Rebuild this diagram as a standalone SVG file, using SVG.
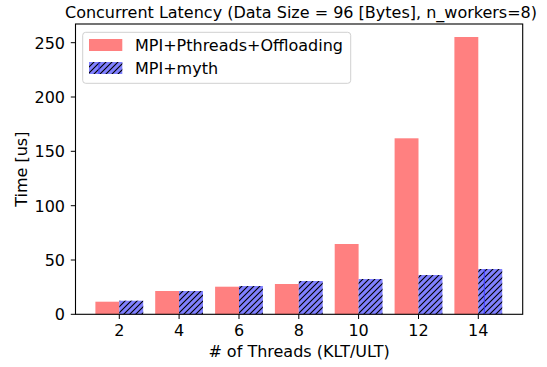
<svg xmlns="http://www.w3.org/2000/svg" width="547" height="367" viewBox="0 0 547 367">
  <style>
    text { font-family: "DejaVu Sans", "Liberation Sans", sans-serif; font-size: 16px; fill: #000; }
    .red { fill: #ff8080; }
    .blue { fill: #8080ff; }
    .hatch { fill: url(#hatch); }
    .tick { stroke: #000; stroke-width: 1; }
    .ylab { text-anchor: end; }
    .xlab { text-anchor: middle; }
    .seam { stroke: #3a3aff; stroke-width: 1; }
  </style>
  <defs>
    <pattern id="hatch" patternUnits="userSpaceOnUse" width="6" height="6">
      <path d="M0,6 L6,0 M-1.5,1.5 L1.5,-1.5 M4.5,7.5 L7.5,4.5" stroke="#000" stroke-width="1.1"/>
    </pattern>
  </defs>
  <rect width="547" height="367" fill="#fff"/>

  <text x="301" y="17.5" text-anchor="middle">Concurrent Latency (Data Size = 96 [Bytes], n_workers=8)</text>

  <g id="bars-offloading">
    <rect class="red" x="95.4" y="301.7" width="23.9" height="12.6"/>
    <rect class="red" x="155.2" y="291.0" width="23.9" height="23.3"/>
    <rect class="red" x="215.1" y="286.7" width="23.9" height="27.6"/>
    <rect class="red" x="274.9" y="284.0" width="23.9" height="30.3"/>
    <rect class="red" x="334.7" y="244.0" width="23.9" height="70.3"/>
    <rect class="red" x="394.6" y="138.3" width="23.9" height="176.0"/>
    <rect class="red" x="454.4" y="37.0" width="23.9" height="277.3"/>
  </g>
  <g id="bars-myth">
    <rect class="blue" x="119.3" y="300.7" width="23.9" height="13.6"/>
    <rect class="blue" x="179.1" y="291.0" width="23.9" height="23.3"/>
    <rect class="blue" x="239.0" y="286.0" width="23.9" height="28.3"/>
    <rect class="blue" x="298.8" y="281.0" width="23.9" height="33.3"/>
    <rect class="blue" x="358.6" y="279.0" width="23.9" height="35.3"/>
    <rect class="blue" x="418.5" y="275.0" width="23.9" height="39.3"/>
    <rect class="blue" x="478.3" y="269.0" width="23.9" height="45.3"/>
    <rect class="hatch" x="119.3" y="300.7" width="23.9" height="13.6"/>
    <rect class="hatch" x="179.1" y="291.0" width="23.9" height="23.3"/>
    <rect class="hatch" x="239.0" y="286.0" width="23.9" height="28.3"/>
    <rect class="hatch" x="298.8" y="281.0" width="23.9" height="33.3"/>
    <rect class="hatch" x="358.6" y="279.0" width="23.9" height="35.3"/>
    <rect class="hatch" x="418.5" y="275.0" width="23.9" height="39.3"/>
    <rect class="hatch" x="478.3" y="269.0" width="23.9" height="45.3"/>
    <line class="seam" x1="484.3" y1="269.5" x2="484.3" y2="314"/>
  </g>

  <g id="axes">
    <rect x="75.5" y="24" width="447.2" height="290.3" fill="none" stroke="#000" stroke-width="1.1"/>
    <g id="yticks">
      <line class="tick" x1="70.8" y1="314.3" x2="75.5" y2="314.3"/>
      <line class="tick" x1="70.8" y1="260.0" x2="75.5" y2="260.0"/>
      <line class="tick" x1="70.8" y1="205.7" x2="75.5" y2="205.7"/>
      <line class="tick" x1="70.8" y1="151.3" x2="75.5" y2="151.3"/>
      <line class="tick" x1="70.8" y1="97.0" x2="75.5" y2="97.0"/>
      <line class="tick" x1="70.8" y1="42.7" x2="75.5" y2="42.7"/>
      <text class="ylab" x="65" y="320.1">0</text>
      <text class="ylab" x="65" y="265.8">50</text>
      <text class="ylab" x="65" y="211.5">100</text>
      <text class="ylab" x="65" y="157.1">150</text>
      <text class="ylab" x="65" y="102.8">200</text>
      <text class="ylab" x="65" y="48.5">250</text>
    </g>
    <g id="xticks">
      <line class="tick" x1="119.3" y1="314.3" x2="119.3" y2="319"/>
      <line class="tick" x1="179.1" y1="314.3" x2="179.1" y2="319"/>
      <line class="tick" x1="239.0" y1="314.3" x2="239.0" y2="319"/>
      <line class="tick" x1="298.8" y1="314.3" x2="298.8" y2="319"/>
      <line class="tick" x1="358.6" y1="314.3" x2="358.6" y2="319"/>
      <line class="tick" x1="418.5" y1="314.3" x2="418.5" y2="319"/>
      <line class="tick" x1="478.3" y1="314.3" x2="478.3" y2="319"/>
      <text class="xlab" x="119.3" y="336">2</text>
      <text class="xlab" x="179.1" y="336">4</text>
      <text class="xlab" x="239.0" y="336">6</text>
      <text class="xlab" x="298.8" y="336">8</text>
      <text class="xlab" x="358.6" y="336">10</text>
      <text class="xlab" x="418.5" y="336">12</text>
      <text class="xlab" x="478.3" y="336">14</text>
    </g>
    <text x="299.1" y="357" text-anchor="middle"># of Threads (KLT/ULT)</text>
    <text transform="translate(26.7,169.2) rotate(-90)" text-anchor="middle">Time [us]</text>
  </g>

  <g id="legend">
    <rect x="82.7" y="32.3" width="268" height="51" rx="3" fill="#fff" fill-opacity="0.8" stroke="#d0d0d0" stroke-width="1"/>
    <rect class="red" x="89" y="39" width="33.3" height="12"/>
    <rect class="blue" x="89" y="62" width="33.3" height="12"/>
    <rect class="hatch" x="89" y="62" width="33.3" height="12"/>
    <line class="seam" x1="99" y1="62" x2="99" y2="74"/>
    <text x="135" y="50.8">MPI+Pthreads+Offloading</text>
    <text x="135" y="73.8">MPI+myth</text>
  </g>
</svg>
